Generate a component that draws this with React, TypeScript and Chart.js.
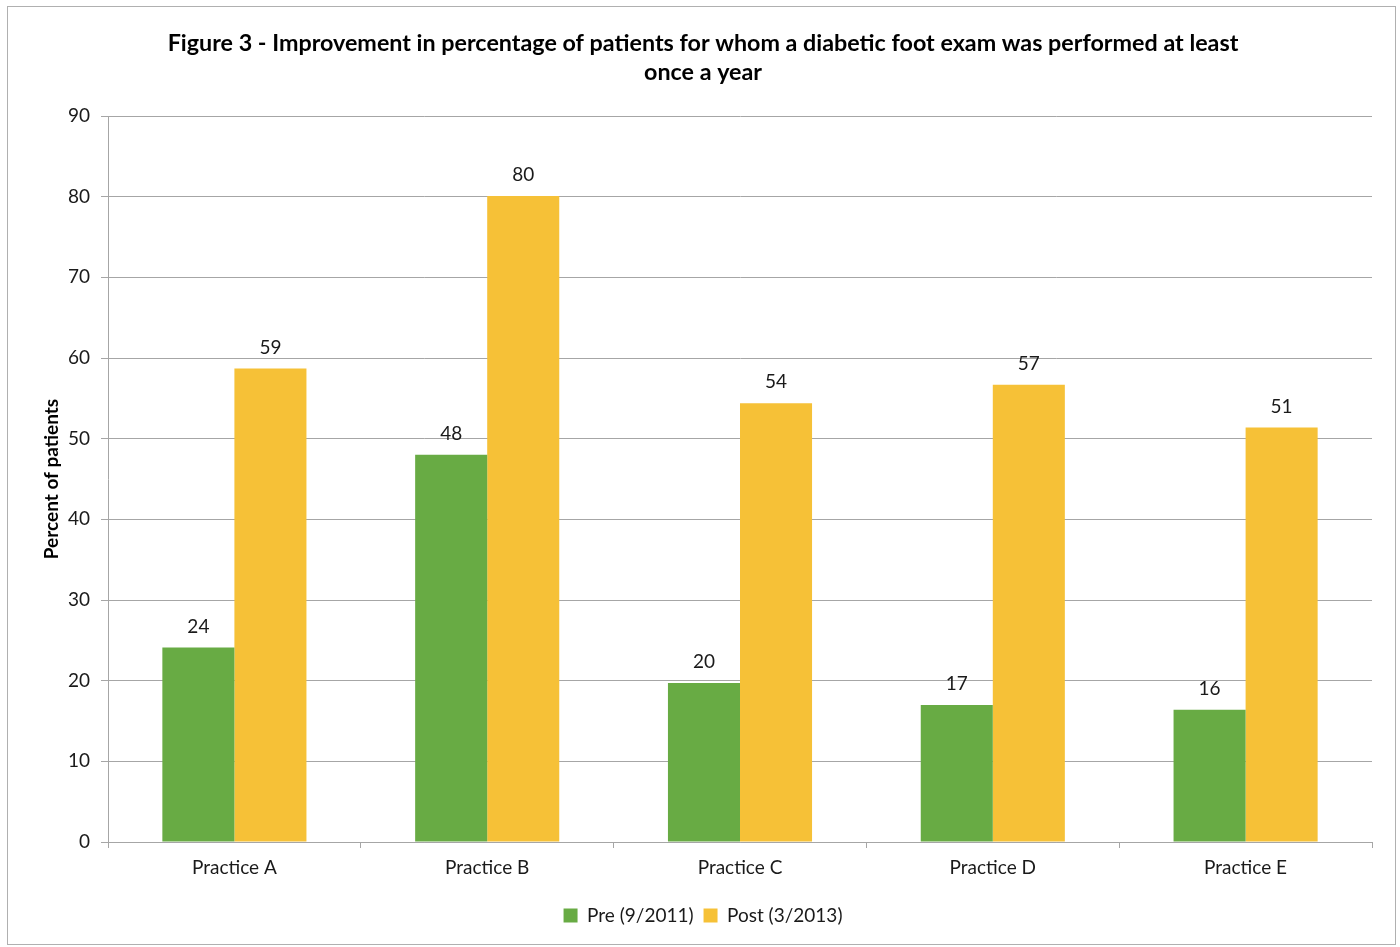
import React, { useEffect, useRef } from "react";
import { Chart, registerables } from "chart.js";

Chart.register(...registerables);

const categories = ["Practice A", "Practice B", "Practice C", "Practice D", "Practice E"];
const preValues = [24.1, 48.0, 19.7, 17.0, 16.4];
const postValues = [58.7, 80.1, 54.4, 56.7, 51.4];
const seriesLabels = ["Pre (9/2011)", "Post (3/2013)"];
const titleLines = [
  "Figure 3 - Improvement in percentage of patients for whom a diabetic foot exam was performed at least",
  "once a year",
];
const yAxisTitle = "Percent of patients";

const FONT = "Lato, 'Open Sans', sans-serif";
const GREEN = "#68AB44";
const YELLOW = "#F6C137";
const GRID = "#A6A6A6";
const TEXT = "#1a1a1a";

const framePlugin = {
  id: "frame",
  beforeDraw(chart: any) {
    const ctx = chart.ctx;
    ctx.save();
    ctx.fillStyle = "#ffffff";
    ctx.fillRect(0, 0, chart.width, chart.height);
    ctx.strokeStyle = "#B0B0B0";
    ctx.lineWidth = 1;
    ctx.strokeRect(7.5, 6.5, 1388, 938);
    ctx.restore();
  },
};

const valueLabelPlugin = {
  id: "valueLabels",
  afterDatasetsDraw(chart: any) {
    const ctx = chart.ctx;
    ctx.save();
    ctx.font = `19px ${FONT}`;
    ctx.fillStyle = TEXT;
    ctx.textAlign = "center";
    ctx.textBaseline = "middle";
    chart.data.datasets.forEach((ds: any, di: number) => {
      const meta = chart.getDatasetMeta(di);
      meta.data.forEach((el: any, i: number) => {
        const v = ds.data[i] as number;
        ctx.fillText(String(Math.round(v)), el.x, el.y - 21);
      });
    });
    ctx.restore();
  },
};

export default function App() {
  const ref = useRef<HTMLCanvasElement | null>(null);

  useEffect(() => {
    if (!ref.current) return;
    const chart = new Chart(ref.current, {
      type: "bar",
      data: {
        labels: categories,
        datasets: [
          {
            label: seriesLabels[0],
            data: preValues,
            backgroundColor: GREEN,
            borderWidth: 0,
          },
          {
            label: seriesLabels[1],
            data: postValues,
            backgroundColor: YELLOW,
            borderWidth: 0,
          },
        ],
      },
      options: {
        responsive: false,
        animation: false,
        layout: { padding: { top: 0, left: 34, right: 28, bottom: 12 } },
        datasets: {
          bar: { categoryPercentage: 0.57, barPercentage: 1.0 },
        },
        plugins: {
          title: {
            display: true,
            text: titleLines,
            color: "#000000",
            font: { family: FONT, size: 23.3, weight: "bold", lineHeight: 1.25 },
            padding: { top: 28.5, bottom: 29.3 },
          },
          legend: {
            display: true,
            position: "bottom",
            labels: {
              boxWidth: 14,
              boxHeight: 14,
              padding: 10,
              color: TEXT,
              font: { family: FONT, size: 19 },
            },
          },
          tooltip: { enabled: false },
        },
        scales: {
          x: {
            grid: {
              display: true,
              drawOnChartArea: false,
              drawTicks: true,
              tickLength: 6,
              color: GRID,
              offset: true,
            },
            border: { display: true, color: GRID },
            ticks: {
              color: TEXT,
              font: { family: FONT, size: 19 },
              padding: 8,
            },
            afterFit: (s: any) => {
              s.height = 54;
            },
          },
          y: {
            min: 0,
            max: 90,
            ticks: {
              stepSize: 10,
              color: TEXT,
              padding: 11,
              font: { family: FONT, size: 19 },
            },
            grid: { color: GRID, tickLength: 7, lineWidth: 1 },
            border: { display: true, color: GRID },
            title: {
              display: true,
              text: yAxisTitle,
              color: "#000000",
              font: { family: FONT, size: 19, weight: "bold" },
              padding: { top: 6, bottom: 0 },
            },
            afterFit: (s: any) => {
              s.width = 74;
            },
          },
        },
      },
      plugins: [framePlugin, valueLabelPlugin],
    } as any);
    return () => chart.destroy();
  }, []);

  return (
    <div style={{ position: "fixed", left: 0, top: 0, width: 1400, height: 947 }}>
      <canvas ref={ref} width={1400} height={947} style={{ display: "block" }} />
    </div>
  );
}
